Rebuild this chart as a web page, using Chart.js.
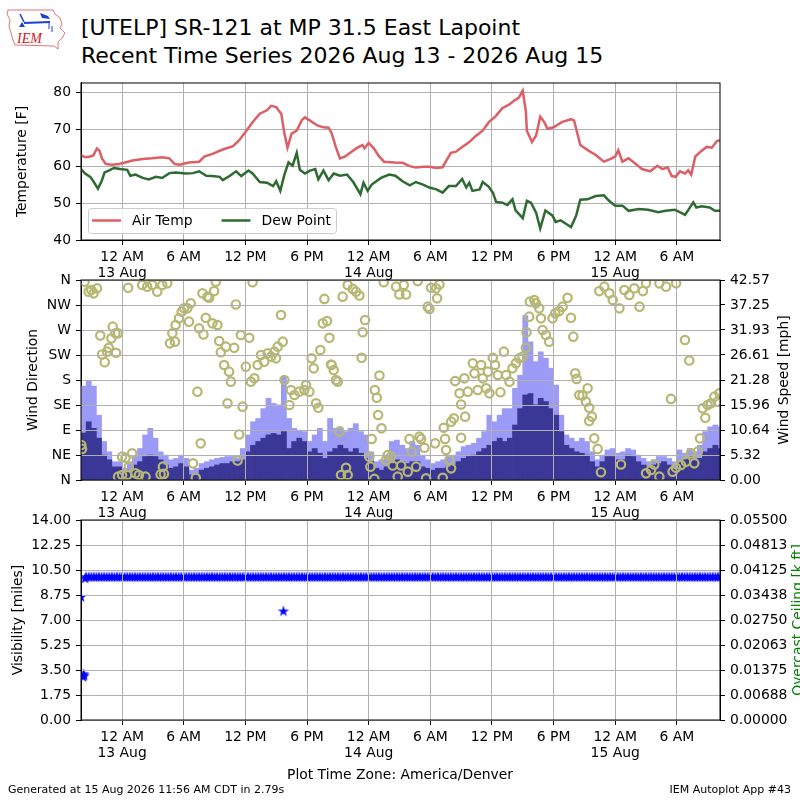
<!DOCTYPE html>
<html>
<head>
<meta charset="utf-8">
<script src="https://cdn.jsdelivr.net/npm/chart.js@4.4.1/dist/chart.umd.min.js"></script>
<style>
  html, body { margin: 0; padding: 0; background: #fff; }
  #page { position: relative; width: 800px; height: 800px; overflow: hidden; font-family: "DejaVu Sans", sans-serif; color: #000; }
  canvas { position: absolute; left: 0; }
  .title { position: absolute; left: 81px; font-size: 22px; line-height: 22px; white-space: nowrap; }
  .rlabel { position: absolute; font-size: 13.9px; line-height: 14px; white-space: nowrap; transform: translate(-50%, -50%) rotate(-90deg); }
  .small { position: absolute; font-size: 11px; line-height: 11px; white-space: nowrap; }
</style>
</head>
<body>
<div id="page">
  <svg width="70" height="55" viewBox="0 0 70 55" style="position:absolute;left:0;top:0">
    <path d="M8 10 L53 10 L55 14 L60 18 L62 24 L60 28 L65 33 L62 38 L58 42 L58 49 L54 46 L15 45 L13 40 L11 33 L9 26 L10 20 L7 14 Z" fill="none" stroke="#d9534f" stroke-width="0.8"/>
    <path d="M20 14 L24 22" stroke="#1f3fd0" stroke-width="1.5"/>
    <path d="M24 23 L50 22" stroke="#1f3fd0" stroke-width="2.2"/>
    <path d="M40 13 L48 16 L50 19 L42 18 Z" fill="#1f3fd0"/>
    <path d="M19 27 L22 22 L25 27 Z" fill="#1f3fd0"/>
    <path d="M49 23 L49 29 M52 26 L52 32" stroke="#1f3fd0" stroke-width="1"/>
    <text x="17" y="43" font-family="Liberation Serif" font-style="italic" font-size="14" fill="#cc2222">IEM</text>
  </svg>
  <div class="title" style="top:17px">[UTELP] SR-121 at MP 31.5 East Lapoint</div>
  <div class="title" style="top:45px">Recent Time Series 2026 Aug 13 - 2026 Aug 15</div>

  <canvas id="tempChart" width="800" height="215" style="top:70px"></canvas>
  <canvas id="windChart" width="800" height="255" style="top:265px"></canvas>
  <canvas id="visChart" width="800" height="260" style="top:505px"></canvas>

  <div class="rlabel" style="left:783px; top:380px">Wind Speed [mph]</div>
  <div class="rlabel" style="left:797px; top:620px; color:#008000">Overcast Ceiling [k ft]</div>
  <div style="position:absolute; left:400px; top:767px; transform:translateX(-50%); font-size:13.9px; line-height:14px; white-space:nowrap">Plot Time Zone: America/Denver</div>
  <div class="small" style="left:8px; top:784px">Generated at 15 Aug 2026 11:56 AM CDT in 2.79s</div>
  <div class="small" style="right:9px; top:784px">IEM Autoplot App #43</div>
</div>
<script>
// hours relative to 12 AM 13 Aug (America/Denver)
const xMin = -4.0, xMax = 58.2;
const timeTicks = [0, 6, 12, 18, 24, 30, 36, 42, 48, 54];
const timeLabels = [['12 AM', '13 Aug'], '6 AM', '12 PM', '6 PM', ['12 AM', '14 Aug'], '6 AM', '12 PM', '6 PM', ['12 AM', '15 Aug'], '6 AM'];

// air temperature [F]
const tempHours = [-4.0, -3.6, -3.1, -2.8, -2.45, -2.2, -1.96, -1.6, -1.0, -0.3,
  0.3, 1.0, 2.0, 2.9, 3.9, 4.6, 5.1, 5.6, 6.5, 7.5,
  8.0, 8.8, 9.8, 10.8, 11.4, 12.1, 12.7, 13.4, 14.1, 14.5,
  15.0, 15.5, 15.8, 16.1, 16.5, 17.0, 17.5, 17.8, 18.3, 19.0,
  19.6, 20.1, 20.4, 20.8, 21.2, 21.7, 22.2, 22.9, 23.4, 23.6,
  24.0, 24.5, 25.0, 25.5, 26.5, 27.3, 28.0, 28.6, 29.3, 29.9,
  30.6, 31.2, 31.5, 32.0, 32.5, 33.1, 33.8, 34.4, 35.1, 35.7,
  36.4, 37.0, 37.7, 38.2, 38.6, 39.0, 39.3, 39.4, 39.9, 40.3,
  40.7, 41.1, 41.4, 42.0, 42.8, 43.7, 44.0, 44.6, 45.4, 46.1,
  46.9, 47.5, 48.0, 48.3, 48.7, 49.3, 50.0, 50.6, 51.4, 52.1,
  52.6, 53.1, 53.5, 53.9, 54.3, 54.8, 55.1, 55.4, 55.8, 56.3,
  56.9, 57.4, 57.9, 58.2];
const tempValues = [63.0, 62.4, 62.6, 62.9, 64.8, 64.2, 62.1, 60.6, 60.4, 60.6,
  61.0, 61.5, 61.9, 62.1, 62.4, 62.1, 60.6, 60.4, 61.0, 61.2,
  62.6, 63.3, 64.5, 65.4, 67.0, 69.6, 71.9, 74.2, 75.1, 76.3,
  76.0, 74.1, 68.8, 65.0, 68.8, 69.6, 72.5, 73.2, 72.3, 71.0,
  70.5, 70.4, 68.9, 65.2, 62.1, 62.6, 63.6, 65.0, 65.7, 64.8,
  66.3, 64.8, 62.7, 61.2, 61.0, 60.9, 60.0, 59.6, 59.8, 59.8,
  59.5, 59.7, 61.2, 63.6, 63.9, 65.2, 66.5, 68.1, 69.6, 71.9,
  73.6, 75.7, 76.7, 77.8, 78.5, 80.4, 74.9, 69.6, 66.5, 68.3,
  73.4, 71.9, 70.1, 70.5, 71.9, 72.7, 72.3, 65.7, 64.2, 63.0,
  61.2, 61.9, 62.6, 64.3, 61.2, 62.1, 60.6, 59.2, 58.6, 60.1,
  59.2, 59.7, 57.3, 57.1, 58.6, 58.0, 58.9, 57.7, 62.6, 63.9,
  65.2, 65.0, 66.8, 67.0];

// dew point [F]
const dewHours = [-4.0, -3.6, -3.1, -2.8, -2.35, -2.0, -1.7, -1.3, -0.8, -0.2,
  0.5, 0.8, 1.3, 2.0, 2.6, 3.3, 3.9, 4.6, 5.2, 6.2,
  6.9, 7.5, 8.2, 8.8, 9.5, 9.8, 10.5, 11.1, 11.6, 12.3,
  12.7, 13.4, 14.1, 14.7, 15.0, 15.4, 15.8, 16.2, 16.6, 17.0,
  17.3, 17.8, 18.3, 18.8, 19.1, 19.6, 20.1, 20.6, 21.2, 21.9,
  22.5, 23.2, 23.5, 23.9, 24.3, 25.2, 26.0, 26.6, 27.3, 28.0,
  28.6, 29.3, 29.9, 30.6, 31.2, 31.8, 32.5, 33.1, 33.5, 33.8,
  34.1, 34.8, 35.1, 35.7, 36.1, 36.4, 37.0, 37.5, 38.0, 38.3,
  39.0, 39.4, 39.8, 40.3, 40.7, 41.2, 41.9, 42.2, 42.7, 43.2,
  43.7, 44.2, 44.6, 45.3, 46.1, 46.9, 47.4, 48.0, 48.7, 49.3,
  50.3, 51.2, 52.2, 52.9, 53.8, 54.8, 55.6, 55.9, 56.4, 57.2,
  57.7, 58.2];
const dewValues = [59.2, 58.0, 57.1, 55.9, 53.9, 55.9, 58.3, 58.8, 59.5, 59.2,
  59.0, 57.4, 57.7, 56.8, 56.4, 57.1, 56.8, 58.1, 58.3, 58.0,
  58.1, 58.6, 57.4, 57.3, 57.1, 56.2, 57.4, 58.6, 57.3, 58.8,
  58.0, 55.7, 55.5, 54.6, 55.9, 53.3, 57.7, 61.0, 60.1, 63.6,
  59.0, 58.0, 58.8, 59.2, 56.4, 58.8, 56.2, 58.0, 57.4, 57.7,
  55.7, 52.4, 55.5, 53.3, 55.0, 56.8, 57.7, 57.4, 55.9, 54.8,
  55.7, 55.0, 54.2, 53.7, 52.8, 54.6, 54.6, 56.5, 54.2, 55.5,
  53.3, 53.7, 55.7, 54.4, 52.8, 50.3, 50.1, 49.5, 51.0, 48.0,
  45.9, 50.6, 50.1, 47.4, 43.1, 48.0, 46.6, 44.9, 45.3, 44.4,
  43.5, 46.6, 50.9, 51.0, 51.9, 52.1, 50.6, 49.3, 49.3, 47.9,
  48.4, 48.2, 47.5, 47.9, 48.2, 46.8, 50.2, 48.8, 49.1, 48.8,
  47.9, 47.9];

// wind direction [deg]
const dirHours = [-3.97, -3.9, -3.65, -3.26, -3.0, -2.77, -2.44, -2.12, -1.95, -1.69,
  -1.47, -1.3, -1.04, -0.91, -0.65, -0.59, -0.39, -0.39, 0, 0,
  0.33, 0.49, 0.59, 0.65, 0.98, 1.3, 1.63, 1.95, 2.28, 2.44,
  2.93, 3.42, 3.75, 3.91, 3.97, 4.07, 4.4, 4.66, 4.89, 5.15,
  5.21, 5.54, 5.8, 6.03, 6.35, 6.51, 6.68, 6.91, 7.17, 7.33,
  7.49, 7.65, 7.82, 7.92, 8.14, 8.31, 8.47, 8.79, 8.96, 9.12,
  9.28, 9.45, 9.61, 9.93, 10.1, 10.26, 10.42, 10.59, 10.91, 11.07,
  11.24, 11.4, 11.56, 11.73, 12.05, 12.38, 12.54, 12.7, 12.87, 13.19,
  13.52, 13.84, 14.17, 14.5, 14.82, 14.98, 15.15, 15.47, 15.64, 15.8,
  16.29, 16.44, 16.77, 17.25, 17.74, 17.9, 18.23, 18.45, 18.65, 18.88,
  19.1, 19.3, 19.53, 19.69, 19.95, 20.18, 20.34, 20.4, 20.6, 20.82,
  20.99, 21.15, 21.31, 21.47, 21.8, 21.96, 21.96, 22.45, 22.77, 23.1,
  23.32, 23.42, 23.65, 24.07, 24.17, 24.3, 24.56, 24.6, 24.79, 24.92,
  25.05, 25.25, 25.47, 25.69, 25.86, 26.18, 26.34, 26.67, 26.83, 26.99,
  27.16, 27.42, 27.64, 27.81, 27.97, 28.19, 28.62, 28.78, 28.94, 29.1,
  29.43, 29.59, 29.75, 29.91, 30.08, 30.47, 30.56, 30.66, 30.89, 31.21,
  31.31, 31.44, 31.54, 31.86, 32.03, 32.03, 32.29, 32.42, 32.84, 33.0,
  33.0, 33.32, 33.39, 33.65, 34.14, 34.3, 34.62, 34.95, 35.11, 35.44,
  35.6, 35.76, 36.08, 36.31, 36.57, 36.83, 37.16, 37.38, 37.71, 38.0,
  38.33, 38.65, 38.98, 39.3, 39.37, 39.63, 39.69, 40.12, 40.28, 40.6,
  40.77, 40.93, 41.25, 41.57, 41.9, 42.16, 42.55, 42.88, 43.36, 43.69,
  43.92, 44.11, 44.24, 44.5, 44.82, 45.15, 45.31, 45.47, 45.47, 45.73,
  45.96, 46.29, 46.45, 46.61, 46.94, 47.43, 47.76, 48.41, 48.56, 48.89,
  49.37, 49.86, 50.37, 50.7, 51.0, 51.0, 51.49, 51.81, 52.3, 52.3,
  52.95, 53.43, 53.59, 53.92, 53.93, 54.4, 54.79, 54.89, 55.21, 55.37,
  55.7, 56.03, 56.25, 56.51, 56.77, 56.99, 57.32, 57.65, 57.97, 58.14];
const dirValues = [63, 56, 357, 339, 342, 336, 345, 260, 226, 212,
  231, 238, 255, 276, 264, 229, 264, 6, 42, 9,
  40, 9, 346, 24, 48, 12, 9, 351, 6, 348,
  351, 339, 10, 351, 24, 11, 354, 246, 264, 249,
  279, 291, 303, 309, 309, 285, 318, 30, 4, 159,
  273, 66, 336, 262, 292, 330, 328, 282, 340, 357,
  279, 250, 230, 207, 240, 138, 195, 177, 238, 316,
  35, 82, 261, 132, 204, 256, 177, 356, 183, 207,
  225, 213, 228, 222, 231, 219, 240, 297, 249, 180,
  135, 162, 153, 159, 162, 171, 159, 219, 201, 138,
  130, 234, 282, 326, 286, 256, 208, 207, 198, 180,
  177, 87, 9, 330, 22, 351, 9, 344, 339, 332,
  220, 266, 288, 42, 24, 74, 2, 162, 148, 117,
  188, 93, 356, 36, 45, 42, 26, 348, 6, 334,
  26, 351, 334, 15, 74, 51, 24, 358, 78, 74,
  58, 3, 312, 308, 346, 66, 345, 327, 352, 4,
  94, 74, 54, 36, 105, 21, 111, 178, 156, 136,
  76, 183, 114, 159, 210, 192, 162, 207, 183, 165,
  195, 156, 220, 207, 189, 158, 231, 189, 177, 201,
  210, 219, 222, 238, 266, 294, 321, 324, 318, 309,
  291, 270, 261, 249, 291, 300, 304, 312, 328, 292,
  258, 192, 182, 153, 152, 141, 165, 130, 106, 114,
  75, 56, 340, 14, 348, 336, 324, 309, 28, 342,
  333, 345, 312, 340, 354, 12, 18, 28, 354, 6,
  348, 146, 15, 22, 354, 27, 252, 33, 215, 48,
  30, 51, 75, 129, 112, 135, 138, 150, 141, 156];

// wind speed and gust [mph], half-hour bars starting 7:45 PM 12 Aug
const windStart = -3.75, windStep = 0.5;
const windSpeed = [10.0, 12.4, 11.0, 8.9, 5.3, 4.3, 2.8, 2.8, 1.8, 2.1,
  3.2, 3.9, 5.0, 5.3, 5.0, 4.3, 3.2, 2.5, 2.8, 3.5,
  2.8, 1.1, 1.4, 2.1, 2.5, 2.8, 3.2, 3.5, 3.5, 3.9,
  3.9, 4.3, 6.0, 7.4, 8.2, 8.9, 9.6, 9.9, 9.6, 10.3,
  6.7, 8.2, 8.9, 8.2, 6.0, 6.7, 5.7, 4.6, 6.0, 6.7,
  7.4, 6.7, 6.0, 6.7, 5.7, 4.6, 3.9, 2.5, 2.1, 2.8,
  3.5, 4.3, 3.9, 3.5, 3.9, 3.9, 2.8, 2.5, 2.1, 2.5,
  2.5, 2.8, 3.2, 3.9, 4.6, 5.0, 5.3, 6.0, 6.7, 7.4,
  8.2, 8.9, 8.2, 8.9, 11.7, 15.2, 18.1, 18.4, 16.0, 17.4,
  16.7, 15.2, 13.8, 10.3, 7.4, 6.7, 6.0, 5.7, 5.3, 3.9,
  2.8, 3.9, 5.0, 5.0, 4.3, 4.3, 5.3, 5.0, 3.9, 3.2,
  2.8, 3.2, 3.5, 3.9, 3.2, 2.5, 3.9, 4.3, 5.0, 4.3,
  4.6, 6.0, 6.7, 7.4, 6.7];
const windGust = [20.0, 21.0, 20.0, 13.8, 8.2, 6.0, 3.9, 3.9, 2.5, 3.9,
  5.0, 6.7, 9.6, 11.0, 8.9, 6.0, 5.3, 4.3, 4.6, 5.3,
  4.6, 2.1, 2.5, 3.5, 3.9, 4.3, 4.6, 4.8, 5.0, 5.0,
  4.6, 6.7, 9.6, 12.4, 13.1, 15.2, 17.4, 16.3, 16.0, 22.0,
  13.1, 11.0, 10.6, 10.3, 8.2, 9.6, 11.0, 8.2, 13.1, 11.0,
  11.3, 10.3, 11.0, 12.0, 10.3, 9.6, 6.0, 3.9, 4.3, 5.3,
  8.2, 8.5, 7.4, 6.7, 8.2, 7.4, 5.3, 4.3, 3.5, 3.9,
  4.3, 5.0, 5.3, 6.0, 7.1, 7.4, 7.8, 8.9, 10.3, 13.8,
  12.4, 13.8, 15.2, 15.2, 19.5, 22.3, 35.0, 29.4, 25.2, 27.3,
  25.9, 23.8, 20.2, 13.8, 9.6, 8.9, 8.2, 8.9, 8.2, 6.0,
  4.3, 5.3, 6.4, 6.7, 5.7, 6.0, 6.7, 6.4, 5.3, 4.6,
  3.9, 4.3, 5.0, 5.0, 4.6, 3.9, 6.4, 5.7, 6.7, 6.0,
  7.4, 10.3, 11.3, 11.7, 11.3];

// visibility [miles], 15-minute readings from 8:30 PM 12 Aug, plus the early low readings
const visStart = -3.5, visStep = 0.25;
const visValues = [10, 10, 10, 10, 10, 10, 10, 10, 10, 10,
  10, 10, 10, 10, 10, 10, 10, 10, 10, 10,
  10, 10, 10, 10, 10, 10, 10, 10, 10, 10,
  10, 10, 10, 10, 10, 10, 10, 10, 10, 10,
  10, 10, 10, 10, 10, 10, 10, 10, 10, 10,
  10, 10, 10, 10, 10, 10, 10, 10, 10, 10,
  10, 10, 10, 10, 10, 10, 10, 10, 10, 10,
  10, 10, 10, 10, 10, 10, 10, 10, 10, 10,
  10, 10, 10, 10, 10, 10, 10, 10, 10, 10,
  10, 10, 10, 10, 10, 10, 10, 10, 10, 10,
  10, 10, 10, 10, 10, 10, 10, 10, 10, 10,
  10, 10, 10, 10, 10, 10, 10, 10, 10, 10,
  10, 10, 10, 10, 10, 10, 10, 10, 10, 10,
  10, 10, 10, 10, 10, 10, 10, 10, 10, 10,
  10, 10, 10, 10, 10, 10, 10, 10, 10, 10,
  10, 10, 10, 10, 10, 10, 10, 10, 10, 10,
  10, 10, 10, 10, 10, 10, 10, 10, 10, 10,
  10, 10, 10, 10, 10, 10, 10, 10, 10, 10,
  10, 10, 10, 10, 10, 10, 10, 10, 10, 10,
  10, 10, 10, 10, 10, 10, 10, 10, 10, 10,
  10, 10, 10, 10, 10, 10, 10, 10, 10, 10,
  10, 10, 10, 10, 10, 10, 10, 10, 10, 10,
  10, 10, 10, 10, 10, 10, 10, 10, 10, 10,
  10, 10, 10, 10, 10, 10, 10, 10, 10, 10,
  10, 10, 10, 10, 10, 10, 10, 10, 10];
const visOddHours = [-4.0, -3.8, -3.75, -3.7, -3.6, 15.7];
const visOddValues = [8.6, 3.0, 3.2, 3.1, 9.9, 7.6];

// axis ticks
const tempTicks = [40, 50, 60, 70, 80];
const dirTicks = [0, 45, 90, 135, 180, 225, 270, 315, 360];
const dirTickLabels = ['N', 'NE', 'E', 'SE', 'S', 'SW', 'W', 'NW', 'N'];
const speedTicks = [0, 5.32, 10.64, 15.96, 21.28, 26.61, 31.93, 37.25, 42.57];
const speedTickLabels = ['0.00', '5.32', '10.64', '15.96', '21.28', '26.61', '31.93', '37.25', '42.57'];
const visTicks = [0, 1.75, 3.5, 5.25, 7, 8.75, 10.5, 12.25, 14];
const visTickLabels = ['0.00', '1.75', '3.50', '5.25', '7.00', '8.75', '10.50', '12.25', '14.00'];
const ceilTicks = [0, 0.006875, 0.01375, 0.020625, 0.0275, 0.034375, 0.04125, 0.048125, 0.055];
const ceilTickLabels = ['0.00000', '0.00688', '0.01375', '0.02063', '0.02750', '0.03438', '0.04125', '0.04813', '0.05500'];

Chart.defaults.font.family = '"DejaVu Sans", sans-serif';
Chart.defaults.font.size = 13.9;
Chart.defaults.color = '#000';

const gridColor = '#b0b0b0';
const tickFont = { size: 13.9, lineHeight: 1.15 };

function pts(xs, ys) {
  return xs.map((x, i) => ({ x: x, y: ys[i] }));
}
function regular(start, step, ys) {
  return ys.map((y, i) => ({ x: start + i * step, y: y }));
}

function timeAxis(height) {
  return {
    type: 'linear', min: xMin, max: xMax, offset: false,
    afterBuildTicks: s => { s.ticks = timeTicks.map(v => ({ value: v })); },
    afterFit: s => { s.height = height; },
    ticks: { autoSkip: false, maxRotation: 0, padding: 4, font: tickFont,
      callback: (v, i) => timeLabels[i] },
    grid: { color: gridColor, tickColor: '#000', tickLength: 5, offset: false },
    border: { color: '#000' }
  };
}
function leftAxis(min, max, ticks, labels, title, titlePad) {
  return {
    position: 'left', min: min, max: max,
    afterBuildTicks: s => { s.ticks = ticks.map(v => ({ value: v })); },
    afterFit: s => { s.width = 81; },
    ticks: { padding: 5, font: tickFont, callback: (v, i) => labels ? labels[i] : v },
    grid: { color: gridColor, tickColor: '#000', tickLength: 5 },
    border: { color: '#000' },
    title: { display: true, text: title, font: { size: 13.9 }, padding: { top: titlePad, bottom: 0 } }
  };
}
function rightAxis(min, max, ticks, labels) {
  return {
    position: 'right', min: min, max: max,
    afterBuildTicks: s => { s.ticks = ticks.map(v => ({ value: v })); },
    afterFit: s => { s.width = 80; },
    ticks: { padding: 5, font: tickFont, callback: (v, i) => labels[i] },
    grid: { drawOnChartArea: false, tickColor: '#000', tickLength: 5 },
    border: { color: '#000' }
  };
}

const frame = {
  id: 'frame',
  afterDraw(chart) {
    const { ctx, chartArea: a } = chart;
    ctx.save();
    ctx.strokeStyle = '#000';
    ctx.lineWidth = 1;
    ctx.strokeRect(a.left, a.top, a.right - a.left, a.bottom - a.top);
    ctx.restore();
  }
};

// matplotlib puts the grid over bars and markers
const gridOnTop = {
  id: 'gridOnTop',
  afterDatasetsDraw(chart) {
    chart.scales.x.drawGrid(chart.chartArea);
    chart.scales.y.drawGrid(chart.chartArea);
  }
};

const insideLegend = {
  id: 'insideLegend',
  afterDraw(chart) {
    const { ctx, chartArea: a } = chart;
    const x = a.left + 7, y = a.bottom - 32, w = 248, h = 25;
    ctx.save();
    ctx.fillStyle = 'rgba(255,255,255,0.8)';
    ctx.strokeStyle = '#cccccc';
    ctx.lineWidth = 1;
    ctx.beginPath();
    ctx.roundRect(x + 0.5, y + 0.5, w, h, 3);
    ctx.fill();
    ctx.stroke();
    ctx.font = '13.9px "DejaVu Sans"';
    ctx.textBaseline = 'middle';
    let cx = x + 4;
    chart.data.datasets.forEach(ds => {
      ctx.strokeStyle = ds.borderColor;
      ctx.lineWidth = 2.5;
      ctx.beginPath();
      ctx.moveTo(cx, y + h / 2);
      ctx.lineTo(cx + 29, y + h / 2);
      ctx.stroke();
      ctx.fillStyle = '#000';
      ctx.fillText(ds.label, cx + 40, y + h / 2 + 1);
      cx += 40 + ctx.measureText(ds.label).width + 29;
    });
    ctx.restore();
  }
};

function starImage(r, color) {
  const c = document.createElement('canvas');
  const s = Math.ceil(r * 2 + 2);
  c.width = s; c.height = s;
  const g = c.getContext('2d');
  g.fillStyle = color;
  g.beginPath();
  for (let i = 0; i < 10; i++) {
    const ang = -Math.PI / 2 + i * Math.PI / 5;
    const rr = i % 2 === 0 ? r : r * 0.382;
    g.lineTo(s / 2 + rr * Math.cos(ang), s / 2 + rr * Math.sin(ang));
  }
  g.closePath();
  g.fill();
  return c;
}

const common = {
  responsive: false,
  animation: false,
  events: [],
  plugins: { legend: { display: false }, tooltip: { enabled: false } }
};

new Chart(document.getElementById('tempChart'), {
  type: 'line',
  data: {
    datasets: [
      { label: 'Air Temp', data: pts(tempHours, tempValues), borderColor: '#dc5f66',
        borderWidth: 2.5, pointRadius: 0, tension: 0 },
      { label: 'Dew Point', data: pts(dewHours, dewValues), borderColor: '#2f6a32',
        borderWidth: 2.5, pointRadius: 0, tension: 0 }
    ]
  },
  options: Object.assign({}, common, {
    layout: { padding: { top: 10, right: 80, left: 0, bottom: 0 } },
    scales: {
      x: timeAxis(45),
      y: leftAxis(40, 82.5, tempTicks, null, 'Temperature [F]', 14)
    }
  }),
  plugins: [frame, insideLegend]
});

new Chart(document.getElementById('windChart'), {
  type: 'bar',
  data: {
    datasets: [
      { type: 'scatter', label: 'Wind Direction', data: pts(dirHours, dirValues), yAxisID: 'y',
        pointStyle: 'circle', pointRadius: 4.2, pointBorderWidth: 2.2,
        pointBorderColor: '#b7b774', pointBackgroundColor: 'rgba(0,0,0,0)',
        borderColor: '#b7b774', clip: 0, order: 0 },
      { type: 'bar', label: 'Wind Speed', data: regular(windStart, windStep, windSpeed), yAxisID: 'y2',
        backgroundColor: '#3a3796', grouped: false, barPercentage: 1, categoryPercentage: 1, order: 1 },
      { type: 'bar', label: 'Wind Gust', data: regular(windStart, windStep, windGust), yAxisID: 'y2',
        backgroundColor: '#9b9bf7', grouped: false, barPercentage: 1, categoryPercentage: 1, order: 2 }
    ]
  },
  options: Object.assign({}, common, {
    layout: { padding: { top: 15, right: 0, left: 0, bottom: 0 } },
    scales: {
      x: timeAxis(40),
      y: leftAxis(0, 360, dirTicks, dirTickLabels, 'Wind Direction', 25),
      y2: rightAxis(0, 42.57, speedTicks, speedTickLabels)
    }
  }),
  plugins: [gridOnTop, frame]
});

const visData = regular(visStart, visStep, visValues).concat(pts(visOddHours, visOddValues));
new Chart(document.getElementById('visChart'), {
  type: 'scatter',
  data: {
    datasets: [
      { label: 'Visibility', data: visData, yAxisID: 'y', pointStyle: starImage(6, '#0000ff'),
        pointRadius: 6, clip: 0 }
    ]
  },
  options: Object.assign({}, common, {
    layout: { padding: { top: 15, right: 0, left: 0, bottom: 0 } },
    scales: {
      x: timeAxis(45),
      y: leftAxis(0, 14, visTicks, visTickLabels, 'Visibility [miles]', 10),
      y2: rightAxis(0, 0.055, ceilTicks, ceilTickLabels)
    }
  }),
  plugins: [gridOnTop, frame]
});
</script>
</body>
</html>
